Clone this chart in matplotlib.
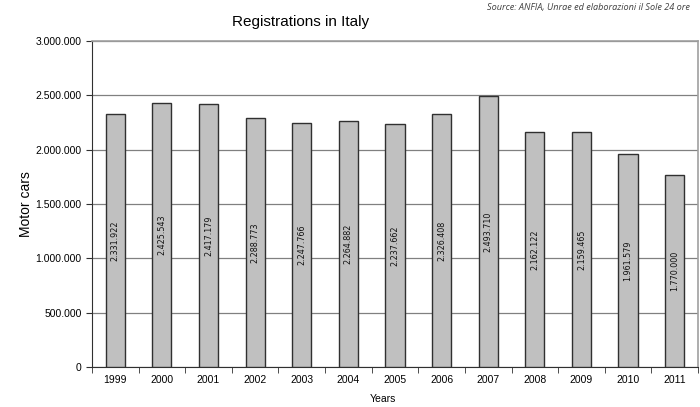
import numpy as np
import matplotlib
matplotlib.use("Agg")
import matplotlib.pyplot as plt
from matplotlib.ticker import FuncFormatter, FixedLocator

# registrations per year
years = ["1999", "2000", "2001", "2002", "2003", "2004", "2005",
         "2006", "2007", "2008", "2009", "2010", "2011"]
cars = [2331922, 2425543, 2417179, 2288773, 2247766, 2264882, 2237662,
        2326408, 2493710, 2162122, 2159465, 1961579, 1770000]
yticks = [0, 500000, 1000000, 1500000, 2000000, 2500000, 3000000]


def dots(v, pos=None):
    return "{:,}".format(int(v)).replace(",", ".")


plt.rcParams['font.family'] = ['Liberation Sans', 'DejaVu Sans']

fig = plt.figure(figsize=(7, 4.07), dpi=100)
ax = fig.add_axes([0.1314, 0.0983, 0.8657, 0.801])

x = np.arange(len(years))
bars = ax.bar(x, cars, width=0.41, color="#c0c0c0", edgecolor="#303030",
              linewidth=1.0, zorder=3)

for xi, v in zip(x, cars):
    ax.text(xi, v / 2, dots(v), rotation=90, ha="center", va="center",
            fontsize=5.8, family="DejaVu Sans", color="#111111", zorder=4)

ax.set_xlim(-0.5, len(years) - 0.5)
ax.set_ylim(0, 3000000)
ax.set_yticks(yticks)
ax.yaxis.set_major_formatter(FuncFormatter(dots))
ax.yaxis.grid(True, color="#808080", linewidth=0.9, zorder=0)

# years centred under bars, tick marks between them
ax.set_xticks(x)
ax.set_xticklabels(years)
ax.tick_params(axis="x", which="major", length=0, pad=6, labelsize=7.5)
ax.xaxis.set_minor_locator(FixedLocator(np.arange(-0.5, len(years), 1.0)))
ax.tick_params(axis="x", which="minor", length=4, color="#303030")
ax.tick_params(axis="y", length=4, color="#303030", labelsize=7.5)

for side in ["top", "right"]:
    ax.spines[side].set_color("#a0a0a0")
    ax.spines[side].set_linewidth(1.2)
ax.spines["left"].set_color("#303030")
ax.spines["bottom"].set_color("#303030")

ax.set_ylabel("Motor cars", fontsize=10, labelpad=2)
ax.set_xlabel("Years", fontsize=7.5, labelpad=6)
ax.xaxis.set_label_coords(0.48, -0.083)

fig.text(0.43, 0.945, "Registrations in Italy", ha="center", va="center",
         fontsize=11)
fig.text(0.986, 0.992, "Source: ANFIA, Unrae ed elaborazioni il Sole 24 ore",
         ha="right", va="top", fontsize=6.6, style="italic", family="Open Sans",
         color="#404040")

fig.savefig("out.png", dpi=100)
